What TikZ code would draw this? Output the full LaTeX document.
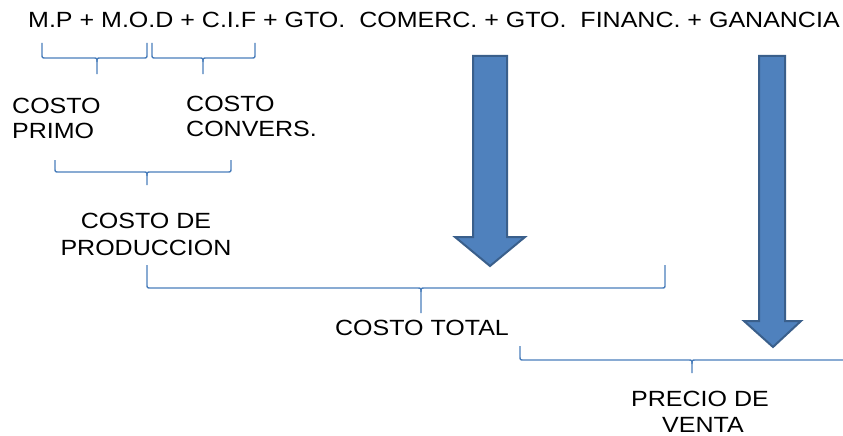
\documentclass[tikz,border=0pt]{standalone}
\usepackage{fontspec}
\setmainfont{Liberation Sans}[FakeStretch=1.137]
\definecolor{bracecol}{HTML}{4A7EBB}
\definecolor{arrowfill}{HTML}{4F81BD}
\definecolor{arrowdraw}{HTML}{3A5F8B}
\tikzset{
  lbl/.style={font=\fontsize{22}{26}\selectfont, inner sep=0pt, anchor=base west},
  lblc/.style={lbl, anchor=base},
  bracepath/.style={draw=bracecol, line width=1.4pt, line join=round},
  blockarrow/.style={fill=arrowfill, draw=arrowdraw, line width=2pt, line join=miter}
}
\newcommand\mybrace[6]{% x1 x2 xm top line tip
  \draw[bracepath] (#1,#4) -- (#1,#5-4) .. controls (#1,#5) .. (#1+4,#5) -- (#3-4,#5) .. controls (#3,#5) .. (#3,#5+4) -- (#3,#6);
  \draw[bracepath] (#2,#4) -- (#2,#5-4) .. controls (#2,#5) .. (#2-4,#5) -- (#3+4,#5) .. controls (#3,#5) .. (#3,#5+4);
}
\begin{document}
\begin{tikzpicture}[x=1pt,y=-1pt]
\useasboundingbox (0,0) rectangle (843,436);
\node[lbl] (title) at (28,28) {M.P + M.O.D + C.I.F + GTO.\ \ COMERC. + GTO.\ \ FINANC. + GANANCIA};
% braces
\mybrace{42}{147}{97}{43}{58}{74}
\mybrace{152}{255}{203}{43}{58}{74}
\mybrace{55}{231}{147}{160}{172}{185}
\mybrace{147}{665}{421}{265}{288}{313}
\mybrace{520}{860}{692}{346}{360}{373}
% labels
\node[lbl] (cp1) at (12,113) {COSTO};
\node[lbl] (cp2) at (12,138) {PRIMO};
\node[lbl] (cc1) at (186,111) {COSTO};
\node[lbl] (cc2) at (186,136) {CONVERS.};
\node[lblc] (pv1) at (700,406) {PRECIO DE};
\node[lblc] (pv2) at (703,432) {VENTA};
\node[lblc] (pr1) at (146,228) {COSTO DE};
\node[lblc] (pr2) at (146,255) {PRODUCCION};
\node[lblc] (ct) at (422,335) {COSTO TOTAL};
% block arrows
\draw[blockarrow] (473,56) -- (507,56) -- (507,237) -- (525,237) -- (490,266) -- (455,237) -- (473,237) -- cycle;
\draw[blockarrow] (759,56) -- (785,56) -- (785,321) -- (801,321) -- (773,347) -- (744,321) -- (759,321) -- cycle;
\end{tikzpicture}
\end{document}
